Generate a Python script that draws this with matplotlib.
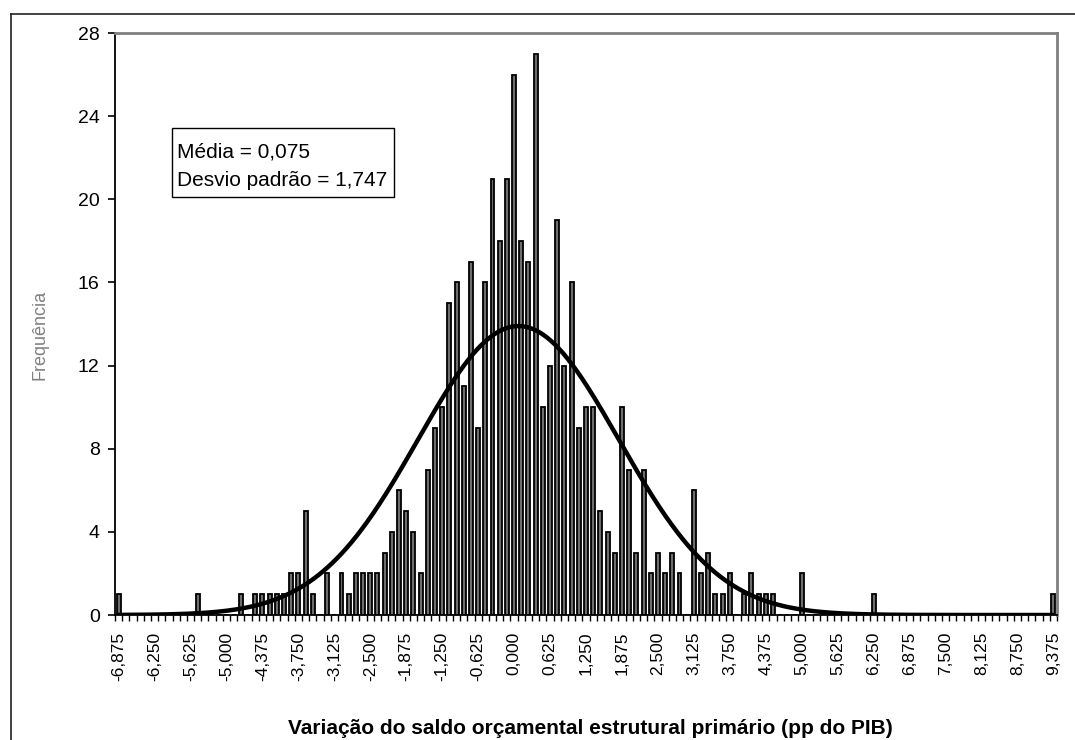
import numpy as np
import matplotlib
matplotlib.use("Agg")
from matplotlib import pyplot as plt
from matplotlib.patches import Rectangle
from matplotlib.lines import Line2D

plt.rcParams['font.family'] = ['Liberation Sans', 'DejaVu Sans']

# bin centres (pp do PIB), step 0,125
bins = np.arange(-6.875, 9.375 + 0.001, 0.125)
counts = [1, 0, 0, 0, 0, 0, 0, 0, 0, 0,
          0, 1, 0, 0, 0, 0, 0, 1, 0, 1,
          1, 1, 1, 1, 2, 2, 5, 1, 0, 2,
          0, 2, 1, 2, 2, 2, 2, 3, 4, 6,
          5, 4, 2, 7, 9, 10, 15, 16, 11, 17,
          9, 16, 21, 18, 21, 26, 18, 17, 27, 10,
          12, 19, 12, 16, 9, 10, 10, 5, 4, 3,
          10, 7, 3, 7, 2, 3, 2, 3, 2, 0,
          6, 2, 3, 1, 1, 2, 0, 1, 2, 1,
          1, 1, 0, 0, 0, 2, 0, 0, 0, 0,
          0, 0, 0, 0, 0, 1, 0, 0, 0, 0,
          0, 0, 0, 0, 0, 0, 0, 0, 0, 0,
          0, 0, 0, 0, 0, 0, 0, 0, 0, 0,
          1]
media = 0.075
desvio = 1.747
yticks = [0, 4, 8, 12, 16, 20, 24, 28]

step = 0.125
W, H = 1075, 740
fig = plt.figure(figsize=(W / 100, H / 100), dpi=100)
ax = fig.add_axes([115 / W, 1 - 615 / H, (1057 - 115) / W, (615 - 33) / H])

ax.bar(bins, counts, width=step * 0.55, color='#6e6e6e', edgecolor='black', linewidth=1.3, zorder=2)

# curva normal ajustada (media e desvio do quadro)
xs = np.linspace(bins[0], bins[-1], 600)
n = sum(counts)
ys = n * step / (desvio * np.sqrt(2 * np.pi)) * np.exp(-0.5 * ((xs - media) / desvio) ** 2)
ax.plot(xs, ys, color='black', lw=3.2, zorder=3, solid_capstyle='round')

ax.set_xlim(bins[0] - step / 2, bins[-1] + step / 2)
ax.set_ylim(0, 28)
ax.set_yticks(yticks)
ax.set_yticklabels([str(v) for v in yticks], fontsize=14)
ax.tick_params(axis='y', direction='out', length=5, width=1.2, pad=6)

ax.set_xticks(bins[::5])
ax.set_xticklabels([f"{v:.3f}".replace('.', ',') for v in bins[::5]], rotation=90, fontsize=12.5)
ax.set_xticks(np.append(bins - step / 2, bins[-1] + step / 2), minor=True)
ax.tick_params(axis='x', which='major', length=0, pad=12)
ax.tick_params(axis='x', which='minor', direction='out', length=4, width=1.0)

for s in ['left', 'bottom']:
    ax.spines[s].set_color('black')
    ax.spines[s].set_linewidth(1.3)
for s in ['top', 'right']:
    ax.spines[s].set_color('#808080')
    ax.spines[s].set_linewidth(2.0)

fig.text(40 / W, 1 - 335 / H, 'Frequência', rotation=90, color='#808080', fontsize=13,
         ha='center', va='center')
fig.text(590 / W, 1 - 728 / H, 'Variação do saldo orçamental estrutural primário (pp do PIB)',
         fontsize=15, fontweight='bold', ha='center', va='center')

# caixa com estatisticas
fig.add_artist(Rectangle((172 / W, 1 - 197 / H), (394 - 172) / W, (197 - 128) / H,
                         transform=fig.transFigure, facecolor='white', edgecolor='black', lw=1.0, zorder=5))
fig.text(177 / W, 1 - 152 / H, 'Média = 0,075', fontsize=15, va='center', zorder=6)
fig.text(177 / W, 1 - 181 / H, 'Desvio padrão = 1,747', fontsize=15, va='center', zorder=6)

# moldura exterior
fig.add_artist(Line2D([11 / W, 1], [1 - 14 / H, 1 - 14 / H], transform=fig.transFigure, color='#222222', lw=1.2))
fig.add_artist(Line2D([11 / W, 11 / W], [0, 1 - 14 / H], transform=fig.transFigure, color='#222222', lw=1.2))

fig.savefig('out.png', dpi=100)
